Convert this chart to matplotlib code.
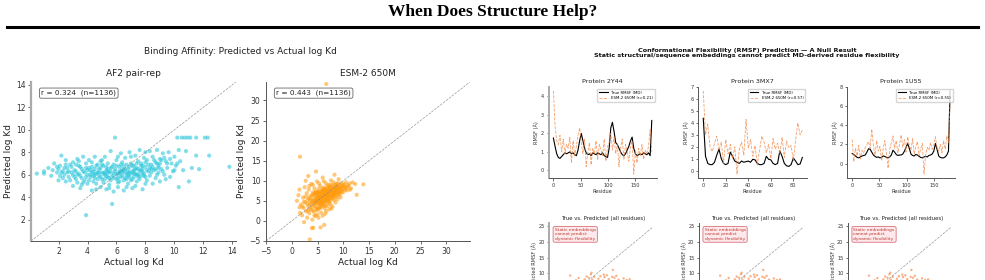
import matplotlib
matplotlib.use("Agg")
import matplotlib.pyplot as plt
from matplotlib.lines import Line2D
from matplotlib.ticker import MultipleLocator

W, H = 985, 280

# Binding affinity: (actual log Kd, predicted log Kd)
af2_points = [
    (0.5, 6.1), (1.0, 6.1), (1.0, 6.3), (1.3, 6.6), (1.5, 5.9), (1.7, 7.0), (1.9, 6.2), (2.0, 5.5),
    (2.0, 6.5), (2.1, 5.9), (2.2, 7.7), (2.3, 6.3), (2.4, 6.0), (2.5, 7.3), (2.5, 5.4), (2.6, 6.6),
    (2.7, 5.8), (2.8, 6.9), (2.9, 6.2), (3.0, 5.0), (3.0, 7.1), (2.2, 6.2), (2.6, 6.2), (3.1, 6.4),
    (3.2, 5.6), (3.3, 7.4), (3.3, 6.0), (3.4, 6.8), (3.5, 4.8), (3.5, 5.9), (3.6, 6.5), (3.7, 7.6),
    (3.7, 5.3), (3.8, 6.2), (3.9, 2.4), (3.9, 7.0), (3.9, 5.8), (4.0, 6.4), (3.2, 6.9), (3.6, 5.1),
    (4.1, 5.5), (4.1, 7.3), (4.2, 6.0), (4.3, 6.7), (4.3, 4.6), (4.4, 6.3), (4.5, 5.7), (4.5, 7.6),
    (4.6, 6.1), (4.6, 5.2), (4.7, 6.9), (4.8, 5.9), (4.8, 6.5), (4.9, 4.9), (4.9, 7.2), (5.0, 6.2),
    (5.0, 5.6), (4.2, 6.4), (4.4, 5.9), (4.7, 6.2), (4.9, 6.6), (5.1, 6.8), (5.1, 5.3), (5.2, 6.0),
    (5.2, 7.6), (5.3, 6.4), (5.3, 4.7), (5.4, 5.8), (5.4, 7.0), (5.5, 6.2), (5.5, 5.1), (5.6, 6.6),
    (5.6, 8.1), (5.7, 3.4), (5.7, 5.9), (5.8, 6.9), (5.8, 4.5), (5.9, 9.3), (5.9, 6.3), (6.0, 5.6),
    (6.0, 7.3), (5.2, 6.2), (5.4, 6.5), (5.6, 5.5), (5.8, 6.1), (6.1, 6.1), (6.1, 4.9), (6.2, 6.7),
    (6.2, 5.4), (6.3, 7.9), (6.3, 6.3), (6.4, 5.9), (6.4, 7.1), (6.5, 4.6), (6.5, 6.4), (6.6, 5.7),
    (6.6, 7.5), (6.7, 6.0), (6.7, 6.9), (6.8, 5.2), (6.8, 6.5), (6.9, 8.0), (6.9, 6.2), (7.0, 5.5),
    (7.0, 7.0), (6.2, 6.1), (6.4, 6.5), (6.6, 6.2), (6.8, 5.9), (7.1, 6.3), (7.1, 4.8), (7.2, 6.8),
    (7.2, 5.8), (7.3, 7.7), (7.3, 6.1), (7.4, 5.4), (7.4, 6.6), (7.5, 7.2), (7.5, 6.0), (7.6, 8.2),
    (7.6, 5.6), (7.7, 6.4), (7.7, 7.0), (7.8, 4.7), (7.8, 6.2), (7.9, 7.5), (7.9, 5.9), (8.0, 6.7),
    (8.0, 8.0), (7.2, 6.4), (7.5, 6.5), (7.8, 6.8), (8.1, 5.5), (8.1, 7.3), (8.2, 6.3), (8.3, 8.1),
    (8.3, 5.9), (8.4, 6.9), (8.5, 5.2), (8.5, 7.6), (8.6, 6.4), (8.7, 7.1), (8.7, 5.7), (8.8, 8.2),
    (8.9, 6.2), (8.9, 6.8), (9.0, 7.4), (9.0, 5.4), (8.4, 6.5), (8.8, 6.0), (9.1, 6.5), (9.2, 7.9),
    (9.3, 6.0), (9.4, 7.2), (9.5, 6.6), (9.6, 8.0), (9.7, 5.8), (9.8, 7.0), (9.9, 6.3), (10.0, 7.6),
    (10.1, 6.8), (10.3, 4.9), (10.4, 7.2), (10.5, 9.3), (10.6, 6.4), (10.8, 8.1), (10.9, 9.3),
    (11.0, 5.4), (11.1, 9.3), (11.2, 6.6), (10.2, 9.3), (10.7, 9.3), (11.5, 7.7), (11.5, 9.3),
    (11.7, 6.5), (12.1, 9.3), (12.3, 9.3), (12.4, 7.7), (13.8, 6.7), (10.3, 8.2),
    # dense core
    (2.3, 5.7), (2.4, 6.6), (2.7, 6.3), (2.8, 5.5), (2.9, 6.7), (3.0, 6.0), (3.1, 5.8), (3.2, 6.3),
    (3.3, 5.3), (3.4, 6.1), (3.5, 6.7), (3.6, 5.7), (3.7, 6.3), (3.8, 5.5), (3.9, 6.6), (4.0, 5.2),
    (4.0, 6.0), (4.1, 6.6), (4.2, 5.8), (4.3, 6.2), (4.4, 5.4), (4.5, 6.5), (4.5, 6.0), (4.6, 6.8),
    (4.7, 5.6), (4.8, 6.2), (4.9, 5.8), (5.0, 6.9), (5.1, 6.1), (5.2, 5.6), (5.3, 6.7), (5.3, 5.9),
    (5.4, 6.2), (5.5, 5.7), (5.6, 6.3), (5.7, 6.7), (5.8, 5.7), (5.9, 6.5), (6.0, 6.0), (6.0, 6.8),
    (6.1, 5.7), (6.2, 6.3), (6.3, 5.8), (6.3, 6.9), (6.4, 6.2), (6.5, 5.5), (6.5, 6.8), (6.6, 6.5),
    (6.7, 5.6), (6.8, 6.2), (6.9, 6.7), (6.9, 5.8), (7.0, 6.1), (7.1, 6.8), (7.1, 5.6), (7.2, 6.1),
    (7.3, 6.5), (7.4, 6.0), (7.4, 7.0), (7.5, 5.8), (7.6, 6.3), (7.7, 6.8), (7.7, 5.9), (7.8, 6.5),
    (7.9, 6.1), (8.0, 5.8), (8.0, 7.1), (8.1, 6.4), (8.2, 6.9), (8.3, 6.6), (8.4, 6.2), (8.5, 6.7),
    (8.6, 7.3), (8.7, 6.5), (8.8, 7.0), (8.9, 6.6), (9.0, 7.0), (9.1, 7.3), (9.2, 6.3), (9.3, 7.5),
    (9.5, 7.0), (9.7, 7.4), (10.0, 6.4), (10.2, 7.0), (5.0, 7.3), (6.1, 7.6), (7.0, 7.6), (4.3, 7.1),
    (3.4, 7.2), (8.0, 5.2), (6.7, 4.9), (5.5, 4.8), (4.6, 4.7), (7.3, 5.0), (9.4, 5.6), (2.5, 6.9),
    (1.9, 6.7), (1.6, 6.4), (2.1, 6.8), (6.1, 5.3),
]
esm_points = [
    (1.0, 5.0), (1.3, 6.4), (1.5, 7.8), (1.6, 2.0), (1.8, 4.1), (2.0, 1.4), (2.2, 5.8), (2.3, 3.2),
    (2.5, 8.4), (2.6, 4.6), (2.8, 2.4), (2.9, 6.9), (3.0, 0.8), (3.1, 5.2), (3.2, 3.7), (3.3, 7.8),
    (3.4, 1.9), (3.5, 4.4), (3.6, 6.1), (3.7, 2.8), (3.8, 9.2), (3.9, 5.0), (4.0, 0.3), (4.0, 3.5),
    (4.1, 7.1), (3.2, 11.2), (2.7, 10.0), (4.2, 5.6), (4.3, 2.3), (4.4, 8.1), (4.5, 4.3), (4.5, 6.3),
    (4.6, 1.2), (4.7, 3.4), (4.7, 7.3), (4.8, 5.1), (4.9, 9.8), (5.0, 2.7), (5.0, 6.0), (5.1, 4.2),
    (5.2, 7.9), (5.2, 0.8), (5.3, 5.5), (5.4, 3.5), (5.4, 6.7), (5.5, 8.7), (5.6, 4.8), (5.7, 2.1),
    (5.7, 6.2), (5.8, 7.4), (5.9, 3.9), (5.9, 5.6), (6.0, 10.8), (6.0, 1.3), (6.1, 6.8), (6.2, 4.6),
    (6.2, 8.3), (6.3, 5.9), (6.4, 3.1), (6.4, 7.4), (6.5, 6.2), (6.6, 9.4), (6.6, 4.9), (6.7, 2.4),
    (6.8, 7.0), (6.8, 5.4), (6.9, 8.6), (7.0, 6.3), (7.0, 3.8), (4.4, 5.0), (4.9, 5.7), (5.3, 6.3),
    (5.8, 5.1), (6.2, 6.5), (6.7, 6.0), (5.5, 4.1), (6.0, 7.6), (5.1, 7.0), (4.6, 6.9), (6.4, 5.3),
    (5.7, 4.4), (6.9, 5.7), (7.1, 9.0), (7.2, 5.0), (7.3, 7.6), (7.3, 2.9), (7.4, 6.6), (7.5, 8.2),
    (7.5, 4.2), (7.6, 10.1), (7.7, 5.8), (7.8, 7.1), (7.9, 3.6), (7.9, 8.8), (8.0, 6.4), (8.1, 9.6),
    (8.2, 5.2), (8.2, 7.7), (8.3, 11.5), (8.4, 6.9), (8.5, 4.6), (8.5, 8.4), (8.6, 6.0), (8.7, 9.2),
    (8.8, 7.3), (8.9, 5.4), (9.0, 8.0), (9.1, 10.4), (9.2, 6.7), (9.3, 8.8), (9.4, 7.5), (9.5, 5.9),
    (9.6, 9.4), (9.7, 7.9), (9.8, 8.6), (10.0, 7.2), (10.1, 9.0), (10.3, 8.2), (10.5, 9.6),
    (10.7, 7.6), (10.9, 8.9), (11.2, 9.3), (11.5, 8.1), (11.8, 9.6), (12.3, 9.2), (12.6, 6.5),
    (13.9, 9.1), (7.4, 5.6), (7.8, 6.2), (8.1, 7.0), (8.6, 7.8), (7.1, 7.2), (7.6, 6.9), (8.3, 6.1),
    (9.0, 7.0), (9.4, 8.3), (8.8, 8.5), (7.3, 8.5), (6.7, 34.1), (1.6, 16.0), (3.5, -4.6),
    (3.9, -1.8), (4.2, -1.7), (5.6, -1.6), (6.3, -1.0), (2.4, -0.3), (4.7, 12.3),
    # dense core
    (3.0, 4.2), (3.3, 5.7), (3.5, 3.1), (3.6, 5.3), (3.8, 4.0), (3.9, 6.4), (4.0, 4.6), (4.1, 2.6),
    (4.2, 6.6), (4.3, 4.9), (4.4, 3.8), (4.5, 7.0), (4.6, 5.4), (4.7, 4.5), (4.8, 6.5), (4.8, 2.9),
    (4.9, 4.7), (5.0, 7.1), (5.0, 5.2), (5.1, 3.1), (5.2, 5.9), (5.3, 4.5), (5.3, 7.3), (5.4, 5.1),
    (5.5, 6.0), (5.5, 3.2), (5.6, 7.0), (5.7, 5.3), (5.8, 6.6), (5.8, 3.5), (5.9, 8.0), (6.0, 4.7),
    (6.0, 6.1), (6.1, 5.0), (6.1, 7.3), (6.2, 3.8), (6.3, 6.9), (6.3, 4.3), (6.4, 8.0), (6.5, 5.6),
    (6.5, 7.8), (6.6, 6.6), (6.6, 3.7), (6.7, 7.3), (6.8, 4.6), (6.8, 8.0), (6.9, 6.4), (7.0, 7.6),
    (7.0, 5.1), (7.1, 6.0), (7.2, 8.0), (7.2, 6.6), (7.3, 4.6), (7.4, 7.3), (7.5, 6.2), (7.5, 9.0),
    (7.6, 5.3), (7.7, 7.6), (7.8, 8.4), (7.9, 6.7), (8.0, 7.4), (8.0, 5.7), (8.1, 8.2), (8.2, 6.6),
    (8.3, 7.4), (8.4, 9.0), (8.5, 7.0), (8.6, 8.6), (8.7, 6.6), (8.8, 7.8), (8.9, 9.4), (9.0, 7.6),
    (9.1, 6.3), (9.2, 8.4), (9.3, 7.2), (9.5, 8.2), (9.6, 7.0), (9.8, 7.6), (9.9, 9.0), (10.2, 8.6),
    (10.4, 7.8), (10.6, 8.4), (11.0, 8.6), (11.3, 7.8), (2.4, 4.8), (2.1, 3.6), (1.5, 3.4),
    (2.7, 6.1), (3.4, 8.7), (4.1, 9.0), (5.3, 9.3), (6.2, 9.9), (5.0, 1.6), (6.5, 1.8), (7.7, 3.1),
    (4.4, 1.4), (3.1, 2.5),
]
af2_r, esm_r, n_pairs = 0.324, 0.443, 1136
af2_lims = [0.1, 14.25]
esm_lims = [-5.0, 34.6]

# RMSF profiles (Å), sampled every `step` residues
proteins = ["2Y44", "3MX7", "1U55"]
steps = [3, 2, 3]
pred_r = [0.21, 0.57, 0.55]
true_2y44 = [1.75, 1.3, 0.9, 0.7, 0.65, 0.75, 0.85, 0.95, 0.9, 0.95, 1.0, 0.9, 0.95, 0.85, 0.8,
             1.1, 1.6, 2.0, 1.6, 1.2, 0.95, 0.85, 0.9, 0.8, 0.95, 0.9, 0.85, 0.95, 0.9, 0.85,
             0.95, 0.8, 0.75, 0.7, 1.2, 2.3, 2.6, 2.1, 1.5, 1.4, 1.2, 1.0, 0.85, 0.8, 0.9,
             1.1, 1.3, 1.6, 1.8, 1.2, 0.9, 0.8, 0.85, 0.9, 0.85, 0.95, 0.9, 0.85, 0.95, 0.8, 2.7]
pred_2y44 = [4.3, 2.4, 1.6, 1.4, 1.9, 1.0, 1.7, 0.9, 1.4, 1.2, 1.8, 0.4, 1.6, 0.8, 1.3,
             1.9, 2.3, 1.5, 0.9, 1.7, 0.2, 1.0, 1.5, 0.3, 1.2, 0.9, 1.6, 0.6, 1.4, 1.1,
             0.8, 1.7, 0.5, 1.3, 1.5, 2.0, 1.1, 1.8, 0.9, 1.4, 0.2, 1.2, 1.7, 0.6, 1.4,
             1.0, 0.5, 1.3, 1.6, -0.2, 1.1, 0.4, 1.2, 0.8, 1.4, 0.6, 1.1, 0.9, 1.3, 2.2, 1.0]
true_3mx7 = [4.4, 1.2, 0.6, 0.5, 0.5, 0.7, 1.3, 1.8, 1.0, 0.6,
             0.5, 0.6, 1.55, 1.2, 0.8, 0.7, 0.6, 0.8, 0.7, 0.75,
             0.8, 0.7, 0.95, 0.9, 0.6, 0.5, 0.5, 0.6, 1.2, 0.95,
             0.9, 0.6, 0.5, 0.6, 1.65, 1.2, 0.6, 0.4, 0.35, 0.5,
             1.05, 0.8, 0.5, 0.55, 1.1]
pred_3mx7 = [6.7, 3.0, 3.9, 2.0, 1.6, 2.3, 2.9, 1.7, 2.4, 0.6,
             2.6, 1.4, 2.2, 1.0, 2.0, -0.3, 1.8, 2.4, 1.3, 4.3,
             1.9, 2.6, 1.2, 2.1, 0.5, 1.7, 2.9, 2.4, 1.5, 2.2,
             1.0, 2.7, 1.8, 2.3, 1.4, 2.8, 1.1, 2.5, 1.9, 2.1,
             0.8, 2.6, 4.0, 3.0, 3.4]
true_1u55 = [1.05, 0.95, 0.8, 0.65, 0.6, 0.7, 0.8, 0.85, 0.9, 1.2,
             1.55, 1.5, 1.2, 0.9, 0.75, 0.65, 0.7, 0.6, 0.65, 0.8,
             0.75, 0.65, 0.6, 0.7, 0.9, 1.4, 1.2, 0.95, 0.85, 0.9,
             0.9, 1.0, 1.3, 1.7, 2.1, 1.6, 1.0, 0.85, 0.8, 0.95,
             0.9, 0.75, 0.65, 0.6, 0.7, 0.75, 0.7, 0.85, 0.9, 1.0,
             1.3, 2.1, 1.5, 0.8, 0.65, 0.6, 0.6, 0.7, 0.9, 1.3, 7.6]
pred_1u55 = [2.5, 0.2, 1.6, 0.8, 1.9, 0.5, 1.4, 1.1, 1.7, 2.0,
             2.3, 1.6, 3.6, 1.9, 0.9, 2.4, 1.3, 1.8, 0.3, 1.6,
             2.4, 1.0, -0.5, 1.5, 2.2, 2.9, 1.6, 2.4, 1.1, 2.0,
             3.0, 1.7, 2.5, 1.2, 2.8, 1.9, 1.4, 2.6, 1.0, 1.8,
             2.3, 0.8, 1.6, 2.1, -1.1, 0.9, 1.7, 1.4, 2.2, 1.5,
             1.9, 2.8, 1.6, 1.3, 2.0, 1.1, 2.4, 1.5, 2.9, 2.2, 6.5]
true_rmsf = [true_2y44, true_3mx7, true_1u55]
pred_rmsf = [pred_2y44, pred_3mx7, pred_1u55]
x_major = [50, 20, 50]
y_major = [1, 1, 2]

# all-residue scatter (true vs predicted RMSF), visible part only
all_true = [3.0, 4.5, 5.2, 6.0, 6.8, 7.3, 7.9, 8.4, 8.8, 9.3, 9.9, 10.4, 10.9, 11.5, 12.0, 12.6,
            13.1, 13.6, 14.2, 14.6, 15.1, 15.7, 16.3, 17.0, 17.8, 18.6, 19.4, 6.3, 7.6, 8.1,
            9.0, 10.1, 11.2, 12.3, 13.4, 14.0, 15.4, 16.0, 8.6, 9.6, 11.8]
all_pred = [9.3, 7.8, 8.5, 7.2, 8.1, 9.0, 8.6, 9.7, 8.0, 8.9, 7.5, 8.3, 9.1, 7.7, 8.8, 9.4,
            8.2, 7.3, 11.1, 8.6, 9.2, 8.0, 7.5, 8.4, 7.9, 8.1, 7.2, 6.5, 6.0, 7.1,
            6.7, 6.9, 6.2, 6.6, 7.0, 8.9, 6.4, 7.0, 10.2, 6.3, 9.6]
all_diag = [0.0, 24.6]

CYAN = "#1fc3da"
ORANGE = "#ff9a0a"
PRED_COLOR = "#f2803a"


def px_axes(fig, x0, y0, x1, y1):
    return fig.add_axes([x0 / W, 1 - y1 / H, (x1 - x0) / W, (y1 - y0) / H])


def style(ax, fs, tick_len=2.5):
    for s in ("top", "right"):
        ax.spines[s].set_visible(False)
    for s in ("left", "bottom"):
        ax.spines[s].set_color("#555555")
        ax.spines[s].set_linewidth(0.7)
    ax.tick_params(labelsize=fs, colors="#333333", length=tick_len, width=0.5, pad=1.5)


def affinity_panel(ax, points, color, lims, r, title):
    xs = [p[0] for p in points]
    ys = [p[1] for p in points]
    ax.scatter(xs, ys, s=9, color=color, alpha=0.55, edgecolors="none")
    ax.plot(lims, lims, "--", color="gray", lw=0.5, alpha=0.8)
    ax.set_xlim(lims)
    ax.set_ylim(lims)
    style(ax, 5.5)
    ax.set_title(title, fontsize=6.5, color="#222222", pad=4)
    ax.set_xlabel("Actual log Kd", fontsize=6.5, color="#222222", labelpad=1.5)
    ax.set_ylabel("Predicted log Kd", fontsize=6.5, color="#222222", labelpad=2)
    ax.text(0.05, 0.93, f"r = {r:.3f}  (n={n_pairs})", transform=ax.transAxes, fontsize=5.3,
            va="center", ha="left", color="#222222",
            bbox=dict(boxstyle="round,pad=0.25", fc="white", ec="#666666", lw=0.6))


fig = plt.figure(figsize=(W / 100, H / 100), dpi=100)

fig.text(0.5, 1 - 12 / H, "When Does Structure Help?", ha="center", va="center",
         fontsize=12.5, fontweight="bold", family="Liberation Serif")
fig.add_artist(Line2D([7 / W, 978 / W], [1 - 26.5 / H] * 2, color="black", lw=2.2))

# left block: binding affinity
fig.text(240 / W, 1 - 52 / H, "Binding Affinity: Predicted vs Actual log Kd", ha="center",
         va="center", fontsize=6.5, color="#222222")
ax1 = px_axes(fig, 31, 82, 236, 241)
affinity_panel(ax1, af2_points, CYAN, af2_lims, af2_r, "AF2 pair-rep")
ax1.spines["left"].set_color("#aaaaaa")
ax1.spines["left"].set_linewidth(1.6)
ax2 = px_axes(fig, 266, 82, 470, 241)
affinity_panel(ax2, esm_points, ORANGE, esm_lims, esm_r, "ESM-2 650M")
ax2.xaxis.set_major_locator(MultipleLocator(5))
ax2.yaxis.set_major_locator(MultipleLocator(5))

# right block: RMSF
fig.text(747 / W, 1 - 50.5 / H, "Conformational Flexibility (RMSF) Prediction \u2014 A Null Result",
         ha="center", va="center", fontsize=4.6, fontweight="bold", color="#111111")
fig.text(747 / W, 1 - 56 / H, "Static structural/sequence embeddings cannot predict MD-derived residue flexibility",
         ha="center", va="center", fontsize=4.6, fontweight="bold", color="#111111")

col_x = [(548.5, 656.7), (698.3, 807.3), (847.3, 955.0)]
for i, name in enumerate(proteins):
    x0, x1 = col_x[i]
    ax = px_axes(fig, x0, 86.7, x1, 178.3)
    res = list(range(0, steps[i] * len(true_rmsf[i]), steps[i]))
    ax.plot(res, true_rmsf[i], color="black", lw=0.8, label="True RMSF (MD)")
    ax.plot(res, pred_rmsf[i], "--", color=PRED_COLOR, lw=0.6, alpha=0.75,
            label=f"ESM-2 650M (r={pred_r[i]:.2f})")
    style(ax, 3.6, tick_len=1.8)
    ax.xaxis.set_major_locator(MultipleLocator(x_major[i]))
    ax.yaxis.set_major_locator(MultipleLocator(y_major[i]))
    ax.set_title(f"Protein {name}", fontsize=4.6, color="#222222", pad=3)
    ax.set_xlabel("Residue", fontsize=3.6, color="#333333", labelpad=1)
    ax.set_ylabel("RMSF (\u00c5)", fontsize=3.6, color="#333333", labelpad=1)
    ax.legend(loc="upper right", fontsize=2.8, frameon=True, handlelength=2.2,
              borderpad=0.5, labelspacing=0.4, edgecolor="#cccccc", fancybox=True)
    if i == 0:
        ax.spines["left"].set_color("#aaaaaa")
        ax.spines["left"].set_linewidth(1.4)

    # second row: all-residue scatter, cut by the figure edge
    bx = px_axes(fig, x0 + 0.8, 223, x1, 308)
    bx.scatter(all_true, all_pred, s=3, color=PRED_COLOR, alpha=0.6, edgecolors="none")
    bx.plot(all_diag, all_diag, "--", color="gray", lw=0.5, alpha=0.8)
    bx.set_xlim(-2.5, 25.7)
    bx.set_ylim(-1.0, 26.0)
    style(bx, 3.6, tick_len=1.8)
    bx.yaxis.set_major_locator(MultipleLocator(5))
    bx.tick_params(axis="x", labelbottom=False)
    bx.set_title("True vs. Predicted (all residues)", fontsize=3.9, color="#222222", pad=2.5)
    bx.set_ylabel("Predicted RMSF (\u00c5)", fontsize=3.6, color="#333333", labelpad=1)
    bx.text(0.05, 0.94, "Static embeddings\ncannot predict\ndynamic flexibility",
            transform=bx.transAxes, fontsize=3.2, color="#c0392b", va="top", ha="left",
            linespacing=1.1,
            bbox=dict(boxstyle="round,pad=0.35", fc="#fde9ec", ec="#d9727c", lw=0.6))
    if i == 0:
        bx.spines["left"].set_color("#aaaaaa")
        bx.spines["left"].set_linewidth(1.4)

fig.savefig("out.png", dpi=100)
